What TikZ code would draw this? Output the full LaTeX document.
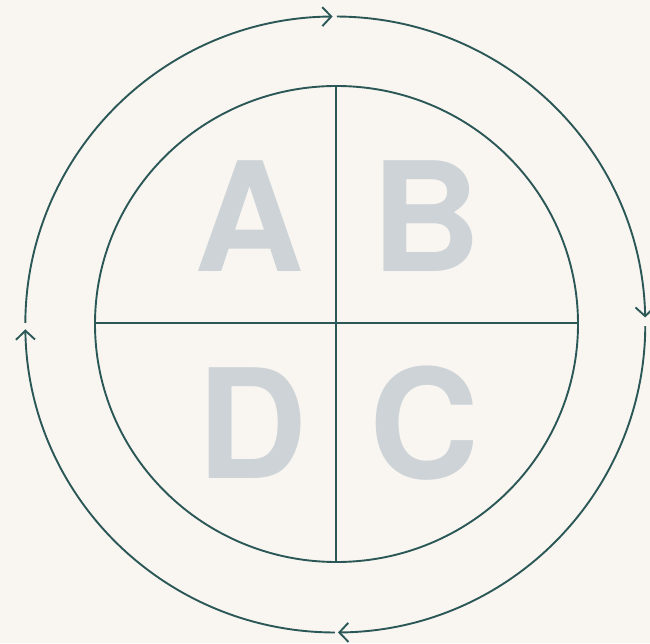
\documentclass[tikz,border=0pt]{standalone}
\usepackage{fontspec}
\setmainfont{TeX Gyre Heros}
\usetikzlibrary{arrows.meta}
\definecolor{bgc}{HTML}{F9F6F2}
\definecolor{linec}{HTML}{2B5856}
\definecolor{letc}{HTML}{CDD3D6}
\begin{document}
\begin{tikzpicture}[x=1pt,y=1pt,
  ring/.style={draw=linec,line width=1.9pt},
  cyc/.style={draw=linec,line width=1.9pt,-{Straight Barb[length=9pt,width=19pt,line width=1.9pt]}},
  letter/.style={text=letc,inner sep=0pt,anchor=base,font=\fontsize{152}{152}\selectfont\bfseries}]
\fill[bgc] (0,0) rectangle (650,643);
\useasboundingbox (0,0) rectangle (650,643);
% outer cycle: center (335.3,318.5), rx 310, ry 308
\coordinate (oc) at (335.3,318.5);
\draw[cyc] ([shift={(179.7:310 and 308)}]oc) arc[start angle=179.7,end angle=90.5,x radius=310,y radius=308];
\draw[cyc] ([shift={(89.7:310 and 308)}]oc) arc[start angle=89.7,end angle=1.3,x radius=310,y radius=308];
\draw[cyc] ([shift={(-0.3:310 and 308)}]oc) arc[start angle=-0.3,end angle=-89.5,x radius=310,y radius=308];
\draw[cyc] ([shift={(-90.1:310 and 308)}]oc) arc[start angle=-90.1,end angle=-179.1,x radius=310,y radius=308];
% inner circle
\coordinate (ic) at (336.5,319);
\draw[ring] (ic) ellipse[x radius=241.5,y radius=238];
\coordinate (vt) at (336,557);
\coordinate (vb) at (336,81);
\coordinate (hl) at (95,320);
\coordinate (hr) at (578,320);
\draw[linec,line width=2pt] (vt) -- (vb);
\draw[linec,line width=2.6pt] (hl) -- (hr);
% letters
\node[letter] (A) at (249.5,371) {A};
\node[letter] (B) at (426,371) {B};
\node[letter] (D) at (252,165) {D};
\node[letter] (C) at (424,165) {C};
\end{tikzpicture}
\end{document}
